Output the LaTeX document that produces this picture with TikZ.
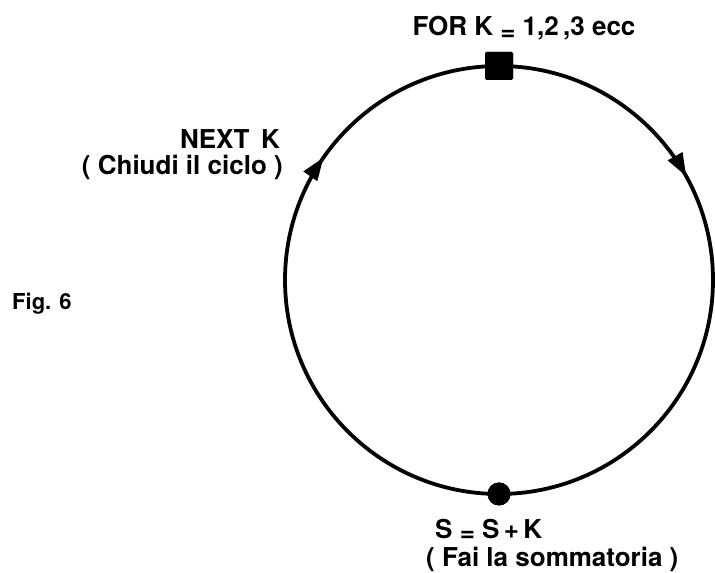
\documentclass[tikz,border=0pt]{standalone}
\usepackage{fontspec}
\setmainfont{TeX Gyre Heros}
\usetikzlibrary{arrows.meta,decorations.markings}
\begin{document}
\begin{tikzpicture}[x=1pt,y=1pt,
  loopline/.style={line width=3.8pt},
  txt/.style={font=\bfseries\fontsize{26}{28}\selectfont, inner sep=0pt},
  figtxt/.style={font=\bfseries\fontsize{22}{24}\selectfont, inner sep=0pt},
  midarrow/.style={postaction={decorate},
    decoration={markings,
      mark=at position #1 with {\arrow{Triangle[length=23pt,width=16pt]}}}},
  startbox/.style={fill=black, minimum size=28pt, inner sep=0pt, rounded corners=1.5pt},
  sumdot/.style={circle, fill=black, minimum size=23pt, inner sep=0pt}
]
\useasboundingbox (0,0) rectangle (715,573);

% loop start (top) and loop body (bottom)
\node[startbox] (for) at (499,507) {};
\node[sumdot] (sum) at (499,79) {};

% the loop, run clockwise
\draw[loopline, midarrow=0.339] (for.center) arc[start angle=90, end angle=-90, radius=214];
\draw[loopline, midarrow=0.694] (sum.center) arc[start angle=270, end angle=90, radius=214];
\node[startbox] at (for) {};
\node[sumdot] at (sum) {};

% labels
\node[txt, anchor=base] (forlbl) at (524,537) {FOR K \raisebox{-.3ex}{=} 1,2\,,3 ecc};
\node[txt, anchor=base east] (next1) at (280,424) {NEXT\, K};
\node[txt, anchor=base east] (next2) at (283,398) {( Chiudi il ciclo )};
\node[figtxt, anchor=base west] (fig) at (12,263) {Fig. 6};
\node[txt, anchor=base west] (sum1) at (435,34) {S \raisebox{-.2ex}{=} S\,+\,K};
\node[txt, anchor=base west] (sum2) at (426,6) {( Fai la sommatoria )};
\end{tikzpicture}
\end{document}
